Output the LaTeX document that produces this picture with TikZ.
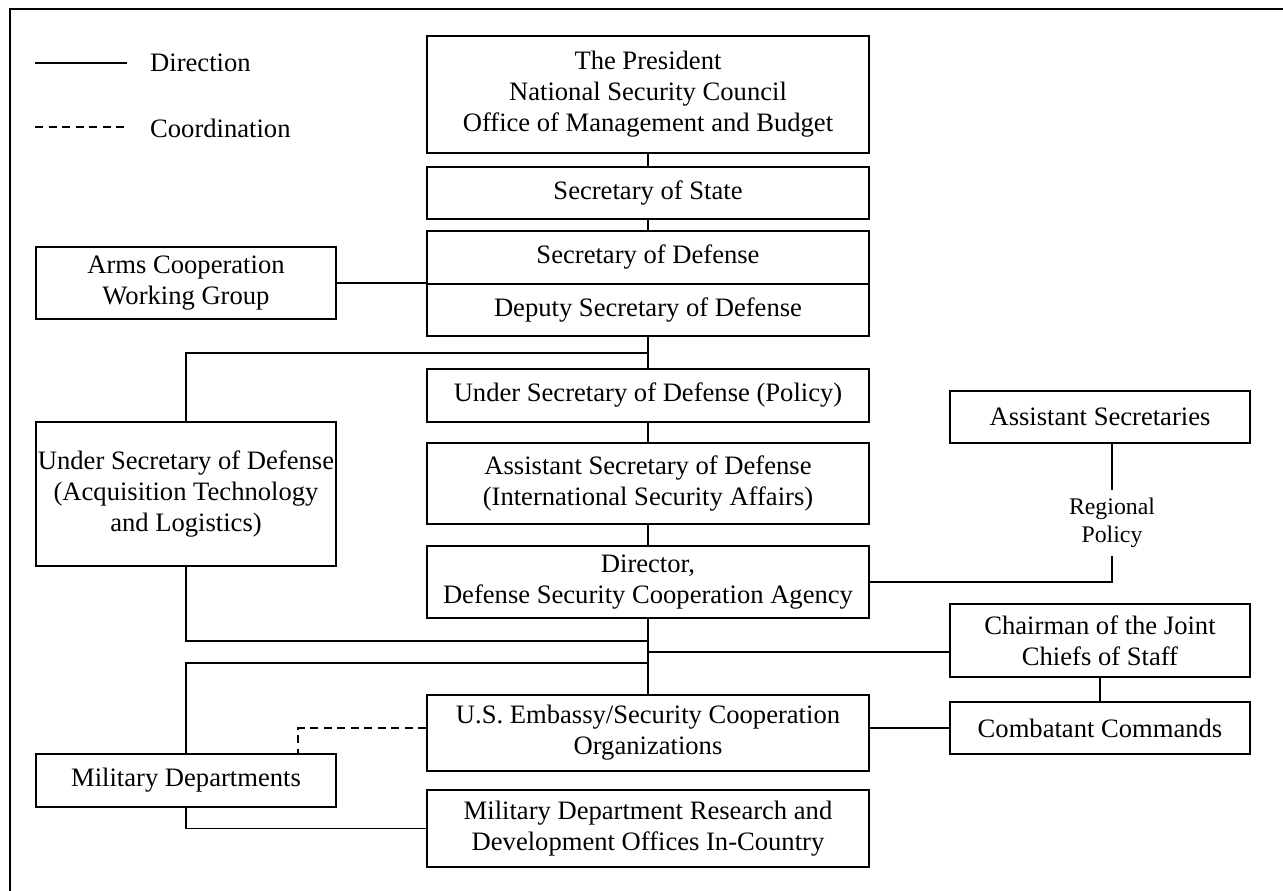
\documentclass[tikz,border=0pt]{standalone}
\usepackage{fontspec}
\setmainfont{Liberation Serif}
\begin{document}
\begin{tikzpicture}[x=1pt,y=-1pt,
  box/.style={draw, line width=2, inner sep=0pt, align=center,
    font=\fontsize{26.6}{31}\selectfont},
  wide/.style={box, minimum width=442},
  side/.style={box, minimum width=300},
  conn/.style={line width=1.8},
  coord/.style={line width=1.8, dash pattern=on 8pt off 5.5pt},
  lbl/.style={inner sep=0pt, align=center, font=\fontsize{26.6}{31}\selectfont}]
\useasboundingbox (0,0) rectangle (1283,891);
% frame (cropped: top and left edges)
\coordinate (fa) at (10,891);
\coordinate (fb) at (10,9);
\coordinate (fc) at (1283,9);
\draw[line width=2.7] (fa) -- (fb) -- (fc);

% legend
\coordinate (l1a) at (35,63);
\coordinate (l1b) at (127,63);
\coordinate (l2a) at (35,127);
\coordinate (l2b) at (127,127);
\draw[conn] (l1a) -- (l1b);
\draw[coord] (l2a) -- (l2b);
\node[lbl, anchor=base west] (ldir) at (150,72) {Direction};
\node[lbl, anchor=base west] (lcoo) at (150,137) {Coordination};

% centre column
\node[wide, minimum height=117] (pres) at (648,94.5) {The President\\National Security Council\\Office of Management and Budget};
\node[wide, minimum height=52] (sos) at (648,193) {Secretary of State};
\node[wide, minimum height=53] (secdef) at (648,257.5) {Secretary of Defense};
\node[wide, minimum height=52] (dep) at (648,310) {Deputy Secretary of Defense};
\node[wide, minimum height=53] (usdp) at (648,395.5) {Under Secretary of Defense (Policy)};
\node[wide, minimum height=81] (asd) at (648,483.5) {Assistant Secretary of Defense\\(International Security Affairs)};
\node[wide, minimum height=72] (dsca) at (648,582) {Director,\\Defense Security Cooperation Agency};
\node[wide, minimum height=76] (emb) at (648,733) {U.S. Embassy/Security Cooperation\\Organizations};
\node[wide, minimum height=77] (rd) at (648,828.5) {Military Department Research and\\Development Offices In-Country};

% left column
\node[side, minimum height=72] (acwg) at (186,283) {Arms Cooperation\\Working Group};
\node[side, minimum height=144] (usdatl) at (186,494) {Under Secretary of Defense\\(Acquisition Technology\\and Logistics)};
\node[side, minimum height=53] (mildep) at (186,780.5) {Military Departments};

% right column
\node[side, minimum height=52] (as) at (1100,417) {Assistant Secretaries};
\node[side, minimum height=73] (cjcs) at (1100,640.5) {Chairman of the Joint\\Chiefs of Staff};
\node[side, minimum height=52] (cc) at (1100,728) {Combatant Commands};
\node[inner sep=0pt, align=center, minimum height=66, font=\fontsize{23.8}{27.7}\selectfont] (rp) at (1112,523) {Regional\\Policy};

% junctions
\coordinate (j1) at (648,353);
\coordinate (j2) at (648,641);
\coordinate (j3) at (648,663);
\coordinate (j4) at (648,652);
\coordinate (d1) at (298,754);

% connectors
\draw[conn] (pres.south) -- (sos.north);
\draw[conn] (sos.south) -- (secdef.north);
\draw[conn] (acwg.east) -- (acwg.east -| secdef.west);
\draw[conn] (dep.south) -- (usdp.north);
\draw[conn] (j1) -| (usdatl.north);
\draw[conn] (usdp.south) -- (asd.north);
\draw[conn] (asd.south) -- (dsca.north);
\draw[conn] (dsca.east) -| (rp.south);
\draw[conn] (rp.north) -- (rp.north |- as.south);
\draw[conn] (dsca.south) -- (emb.north);
\draw[conn] (usdatl.south) |- (j2);
\draw[conn] (mildep.north) |- (j3);
\draw[conn] (j4) -- (j4 -| cjcs.west);
\draw[conn] (cjcs.south) -- (cc.north);
\draw[conn] (cc.west) -- (cc.west -| emb.east);
\draw[coord] (cc.west -| emb.west) -| (d1);
\draw[conn] (mildep.south) |- (rd.west);
\end{tikzpicture}
\end{document}
